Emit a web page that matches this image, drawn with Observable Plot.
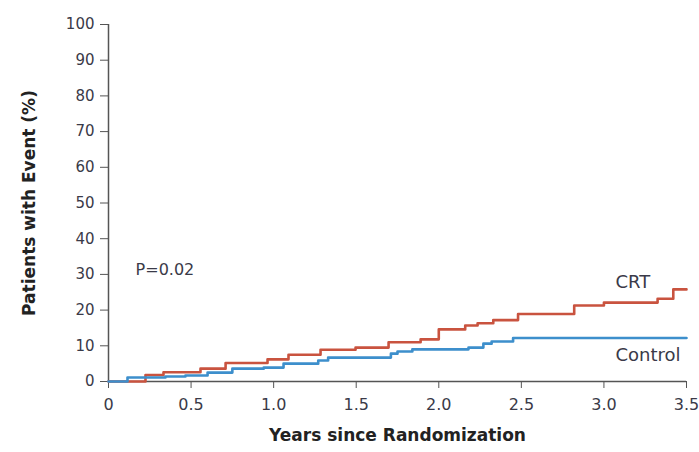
<!DOCTYPE html>
<html>
<head>
<meta charset="utf-8">
<script src="https://cdn.jsdelivr.net/npm/d3@7"></script>
<script src="https://cdn.jsdelivr.net/npm/@observablehq/plot@0.6"></script>
<style>
  html, body { margin: 0; padding: 0; background: #fff; }
</style>
</head>
<body>
<div id="chart"></div>
<script>
// CRT (red) step curve
const crtYears = [0, 0.224, 0.333, 0.557, 0.709, 0.963, 1.09, 1.284, 1.496, 1.696, 1.89, 2.0, 2.16, 2.235, 2.33, 2.48, 2.82, 3.0, 3.325, 3.42, 3.5];
const crtPct   = [0, 1.8,   2.6,   3.6,   5.2,   6.2,   7.5,  8.9,   9.5,   11.0,  11.8, 14.6, 15.7, 16.3, 17.2, 18.9, 21.3, 22.1, 23.2, 25.8, 25.8];
// Control (blue) step curve
const ctrlYears = [0, 0.115, 0.345, 0.466, 0.6, 0.75, 0.94, 1.06, 1.27, 1.33, 1.71, 1.75, 1.84, 2.18, 2.27, 2.32, 2.45, 3.5];
const ctrlPct   = [0, 1.1,   1.4,   1.7,   2.5, 3.6,  3.9,  5.0,  5.9,  6.7,  7.8,  8.4,  9.0,  9.5,  10.6, 11.2, 12.2, 12.2];

const xTicks = [0, 0.5, 1.0, 1.5, 2.0, 2.5, 3.0, 3.5];
const xTickLabels = ["0", "0.5", "1.0", "1.5", "2.0", "2.5", "3.0", "3.5"];
const yTicks = [0, 10, 20, 30, 40, 50, 60, 70, 80, 90, 100];

const xTitle = "Years since Randomization";
const yTitle = "Patients with Event (%)";
const pLabel = [{x: 0.164, y: 31.2, text: "P=0.02"}];
const seriesLabels = [
  {x: 3.07, y: 27.7, text: "CRT"},
  {x: 3.07, y: 7.3, text: "Control"}
];

const crt = crtYears.map((t, i) => ({t, v: crtPct[i]}));
const ctrl = ctrlYears.map((t, i) => ({t, v: ctrlPct[i]}));

const textColor = "#3a3a48";
const axisColor = "#555";

const chart = Plot.plot({
  width: 699,
  height: 452,
  marginLeft: 108,
  marginRight: 13,
  marginTop: 24,
  marginBottom: 71,
  style: {fontFamily: "DejaVu Sans", fontSize: "16px", color: textColor, background: "#fff"},
  x: {domain: [0, 3.5]},
  y: {domain: [0, 100]},
  marks: [
    Plot.axisY({ticks: yTicks, tickSize: 8, tickPadding: 6, label: null, stroke: axisColor, fill: textColor, fontSize: 15}),
    Plot.axisX({ticks: xTicks, tickFormat: (d, i) => xTickLabels[i], tickSize: 7, tickPadding: 10, label: null, stroke: axisColor, fill: textColor, fontSize: 16}),
    Plot.ruleX([0], {stroke: axisColor, strokeWidth: 1.5}),
    Plot.ruleY([0], {stroke: axisColor, strokeWidth: 1.5}),
    Plot.line(crt, {x: "t", y: "v", curve: "step-after", stroke: "#c9533f", strokeWidth: 2.6}),
    Plot.line(ctrl, {x: "t", y: "v", curve: "step-after", stroke: "#3d8fcc", strokeWidth: 2.6}),
    Plot.text(pLabel, {x: "x", y: "y", text: "text", textAnchor: "start", fill: textColor, fontSize: 16}),
    Plot.text(seriesLabels, {x: "x", y: "y", text: "text", textAnchor: "start", fill: textColor, fontSize: 18}),
    Plot.text([xTitle], {frameAnchor: "bottom", textAnchor: "middle", dy: 59, fontWeight: "bold", fontSize: 17, fill: "#222"}),
    Plot.text([yTitle], {frameAnchor: "left", textAnchor: "middle", rotate: -90, dx: -79, fontWeight: "bold", fontSize: 17, fill: "#222"})
  ]
});
document.getElementById("chart").appendChild(chart);
</script>
</body>
</html>
